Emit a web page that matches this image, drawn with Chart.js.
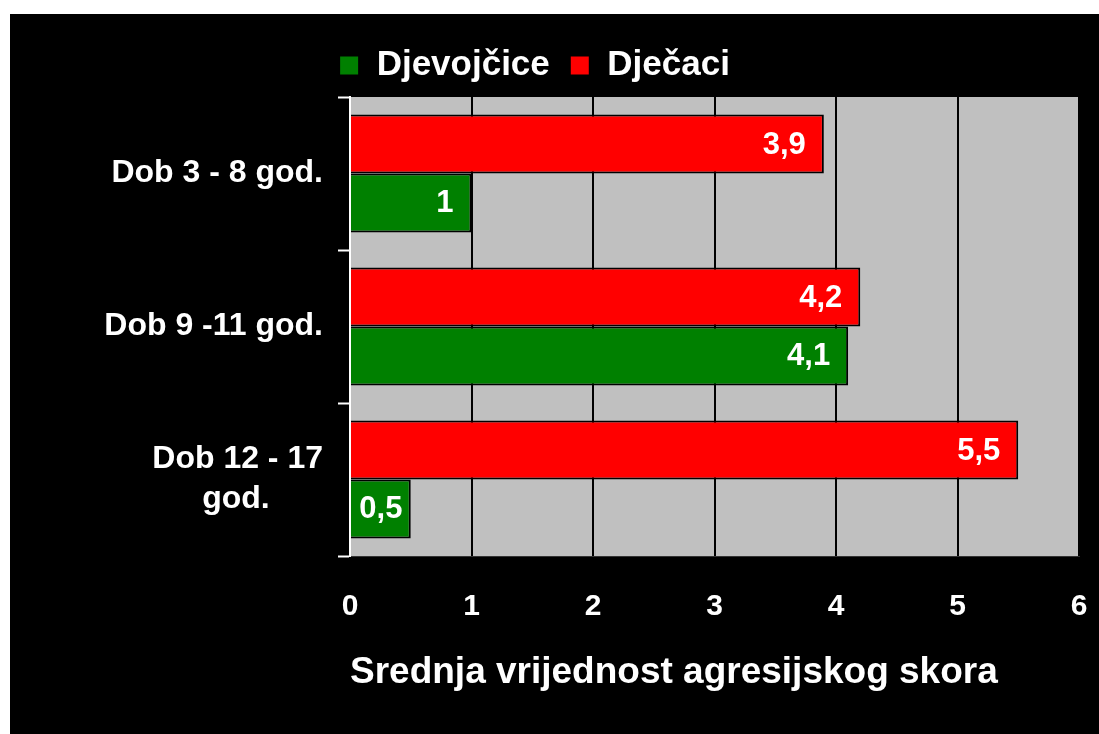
<!DOCTYPE html>
<html>
<head>
<meta charset="utf-8">
<script src="https://cdn.jsdelivr.net/npm/chart.js@4"></script>
<style>
  body { margin: 0; background: #fff; }
  #wrap { position: absolute; left: 10px; top: 14px; width: 1089px; height: 720px; background: #000; }
</style>
</head>
<body>
<div id="wrap"><canvas id="chart"></canvas></div>
<script>
const categorias = ["Dob 3 - 8 god.", "Dob 9 -11 god.", ["Dob 12 - 17", "god.      "]];
const djevojcice = [1, 4.1, 0.5];
const djecaci = [3.9, 4.2, 5.5];
const xTicks = [0, 1, 2, 3, 4, 5, 6];

Chart.defaults.font.family = "'Liberation Sans', Arial, sans-serif";
Chart.defaults.font.weight = "bold";
Chart.defaults.color = "#fff";

// gray plot area
const fondo = {
    id: "fondo",
    beforeDraw(chart){
        const a = chart.chartArea;
        const ctx = chart.ctx;
        ctx.save();
        ctx.fillStyle = "#c0c0c0";
        ctx.fillRect(a.left, a.top, a.right - a.left, a.bottom - a.top);
        ctx.restore();
    }
};

// move legend a bit left and up, like the original
const legendaPos = {
    id: "legendaPos",
    afterLayout(chart){
        const l = chart.legend;
        l.left -= 40; l.right -= 40;
        l.top -= 4; l.bottom -= 4;
    }
};

// value labels inside the end of each bar
const etiquetas = {
    id: "etiquetas",
    afterDatasetsDraw(chart){
        const ctx = chart.ctx;
        ctx.save();
        ctx.font = "bold 31px 'Liberation Sans', Arial, sans-serif";
        ctx.fillStyle = "#fff";
        ctx.textBaseline = "middle";
        chart.data.datasets.forEach((ds, i) => {
            chart.getDatasetMeta(i).data.forEach((bar, j) => {
                const txt = String(ds.data[j]).replace(".", ",");
                const w = ctx.measureText(txt).width;
                const ancho = bar.x - bar.base;
                if (w + 24 > ancho){
                    ctx.textAlign = "center";
                    ctx.fillText(txt, (bar.x + bar.base) / 2, bar.y + 1);
                } else {
                    ctx.textAlign = "right";
                    ctx.fillText(txt, bar.x - 18, bar.y + 1);
                }
            });
        });
        ctx.restore();
    }
};

new Chart(document.getElementById("chart"), {
    type: "bar",
    data: {
        labels: categorias,
        datasets: [
            {
                label: "Dječaci",
                data: djecaci,
                backgroundColor: "#ff0000",
                borderColor: "#000",
                borderWidth: 2
            },
            {
                label: "Djevojčice",
                data: djevojcice,
                backgroundColor: "#008000",
                borderColor: "#000",
                borderWidth: 2
            }
        ]
    },
    options: {
        indexAxis: "y",
        responsive: true,
        maintainAspectRatio: false,
        animation: false,
        categoryPercentage: 0.77,
        barPercentage: 1,
        layout: { padding: { left: 60, right: 20, top: 18, bottom: 39 } },
        plugins: {
            tooltip: { enabled: false },
            legend: {
                position: "top",
                reverse: true,
                labels: {
                    boxWidth: 20,
                    boxHeight: 20,
                    padding: 20,
                    color: "#fff",
                    font: { size: 35, weight: "bold" }
                }
            }
        },
        scales: {
            x: {
                min: 0,
                max: 6,
                afterBuildTicks(scale){
                    scale.ticks = xTicks.map(v => ({ value: v }));
                },
                afterFit(scale){
                    scale.height = 139;
                    scale.paddingLeft = 10;
                    scale.paddingRight = 10;
                },
                grid: { color: "#000", lineWidth: 2, drawTicks: false },
                border: { color: "#333", width: 1 },
                ticks: { color: "#fff", padding: 33, font: { size: 30 } },
                title: {
                    display: true,
                    text: "Srednja vrijednost agresijskog skora",
                    align: "start",
                    color: "#fff",
                    font: { size: 37, weight: "bold" },
                    padding: { top: 0, bottom: 0 }
                }
            },
            y: {
                afterFit(scale){
                    scale.width = 280;
                },
                grid: {
                    drawOnChartArea: false,
                    drawTicks: true,
                    tickLength: 12,
                    tickColor: "#fff",
                    tickWidth: 2
                },
                border: { color: "#fff", width: 2 },
                ticks: { color: "#fff", padding: 15, font: { size: 32, lineHeight: 1.25 } }
            }
        }
    },
    plugins: [fondo, legendaPos, etiquetas]
});
</script>
</body>
</html>
